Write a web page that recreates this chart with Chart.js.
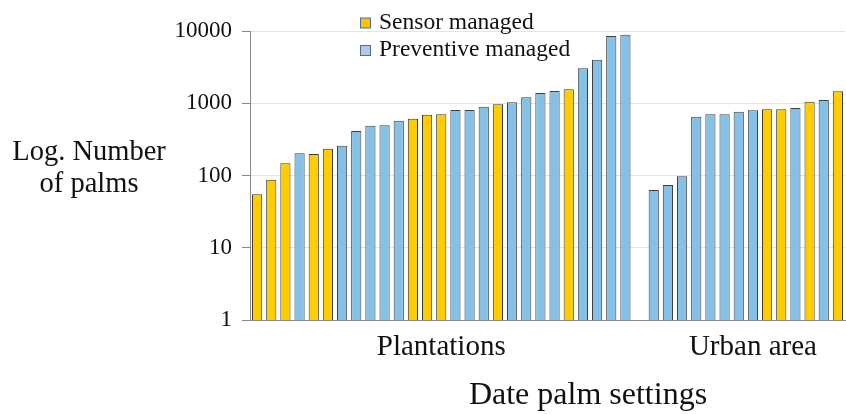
<!DOCTYPE html>
<html>
<head>
<meta charset="utf-8">
<title>Date palm settings</title>
<script src="https://cdn.jsdelivr.net/npm/chart.js@4.4.1/dist/chart.umd.min.js"></script>
<style>
  html, body { margin: 0; padding: 0; background: #ffffff; }
  #wrap { width: 846px; height: 414px; position: relative; }
</style>
</head>
<body>
<div id="wrap"><canvas id="palms"></canvas></div>
<script>
// Number of palms per site, sorted within each setting
const plantationCounts = [55, 87, 148, 203, 199, 235, 259, 413, 489, 495, 574, 611, 695, 703,
                          807, 807, 897, 967, 1030, 1208, 1387, 1479, 1560, 3050, 4010, 8530, 8890];
// S = sensor managed, P = preventive managed
const plantationManagement = ['S', 'S', 'S', 'P', 'S', 'S', 'P', 'P', 'P', 'P', 'P', 'S', 'S', 'S',
                              'P', 'P', 'P', 'S', 'P', 'P', 'P', 'P', 'S', 'P', 'P', 'P', 'P'];
const urbanCounts = [63, 74, 98, 651, 703, 703, 764, 799, 825, 825, 860, 1051, 1109, 1463];
const urbanManagement = ['P', 'P', 'P', 'P', 'P', 'P', 'P', 'P', 'S', 'S', 'P', 'S', 'P', 'S'];

const groupLabels = ['Plantations', 'Urban area'];
const seriesLabels = ['Sensor managed', 'Preventive managed'];
const yTickValues = [1, 10, 100, 1000, 10000];
const yTitleLines = ['Log. Number', 'of palms'];
const xTitle = 'Date palm settings';

// One category per site, with an empty slot separating the two settings
const siteLabels = [];
const sensorData = [];
const preventiveData = [];
const groupTickIndex = {};

function addGroup(name, counts, management) {
  const start = siteLabels.length;
  counts.forEach((v, i) => {
    siteLabels.push(name + ' ' + (i + 1));
    sensorData.push(management[i] === 'S' ? v : null);
    preventiveData.push(management[i] === 'P' ? v : null);
  });
  groupTickIndex[start + Math.floor(counts.length / 2)] = name;
}
addGroup(groupLabels[0], plantationCounts, plantationManagement);
siteLabels.push('');
sensorData.push(null);
preventiveData.push(null);
addGroup(groupLabels[1], urbanCounts, urbanManagement);

const SERIF = '"Liberation Serif", "Times New Roman", "DejaVu Serif", serif';

// Vertical legend in the upper part of the plot, plus the free-standing axis titles
const annotations = {
  id: 'annotations',
  afterDraw(chart) {
    const ctx = chart.ctx;
    ctx.save();
    ctx.fillStyle = '#111111';
    ctx.textAlign = 'left';
    ctx.textBaseline = 'alphabetic';
    ctx.font = '23.5px ' + SERIF;
    const legendFill = ['#FFC000', '#B4C7E7'];
    chart.data.datasets.forEach((ds, i) => {
      const base = 28.5 + i * 27.5;
      ctx.fillStyle = legendFill[i];
      ctx.fillRect(360.5, base - 10.5, 10, 10);
      ctx.strokeStyle = '#41719C';
      ctx.lineWidth = 1;
      ctx.strokeRect(360.5, base - 10.5, 10, 10);
      ctx.fillStyle = '#111111';
      ctx.fillText(ds.label, 379, base);
    });

    ctx.textAlign = 'center';
    ctx.font = '28.5px ' + SERIF;
    ctx.fillText(yTitleLines[0], 89, 160);
    ctx.fillText(yTitleLines[1], 89, 192);

    ctx.font = '32px ' + SERIF;
    ctx.fillText(xTitle, 588, 404);
    ctx.restore();
  }
};

new Chart(document.getElementById('palms'), {
  type: 'bar',
  data: {
    labels: siteLabels,
    datasets: [
      {
        label: seriesLabels[0],
        data: sensorData,
        backgroundColor: '#FFCC00',
        borderColor: '#3a3a3a',
        borderWidth: 1,
        grouped: false,
        barPercentage: 0.72,
        categoryPercentage: 1
      },
      {
        label: seriesLabels[1],
        data: preventiveData,
        backgroundColor: '#85C1E6',
        borderColor: '#3f3f3f',
        borderWidth: 1,
        grouped: false,
        barPercentage: 0.72,
        categoryPercentage: 1
      }
    ]
  },
  options: {
    responsive: true,
    maintainAspectRatio: false,
    animation: false,
    layout: { padding: { top: 31, right: 1, bottom: 0, left: 0 } },
    plugins: {
      legend: { display: false },
      tooltip: { enabled: false }
    },
    scales: {
      x: {
        type: 'category',
        offset: true,
        grid: { display: false },
        border: { display: true, color: '#8a8a8a', width: 1 },
        ticks: {
          autoSkip: false,
          maxRotation: 0,
          minRotation: 0,
          padding: 2,
          color: '#111111',
          font: { family: SERIF, size: 29 },
          callback: (value, index) => groupTickIndex[index] || ''
        },
        afterFit: (scale) => { scale.height = 94; }
      },
      y: {
        type: 'logarithmic',
        min: 1,
        max: 10000,
        afterBuildTicks: (scale) => { scale.ticks = yTickValues.map(v => ({ value: v })); },
        grid: {
          color: '#e4e4e4',
          tickColor: '#8a8a8a',
          tickLength: 8,
          lineWidth: 1
        },
        border: { display: true, color: '#8a8a8a', width: 1 },
        ticks: {
          padding: 10,
          color: '#111111',
          font: { family: SERIF, size: 23 },
          callback: (value) => String(value)
        },
        afterFit: (scale) => { scale.width = 250; }
      }
    }
  },
  plugins: [annotations]
});
</script>
</body>
</html>
